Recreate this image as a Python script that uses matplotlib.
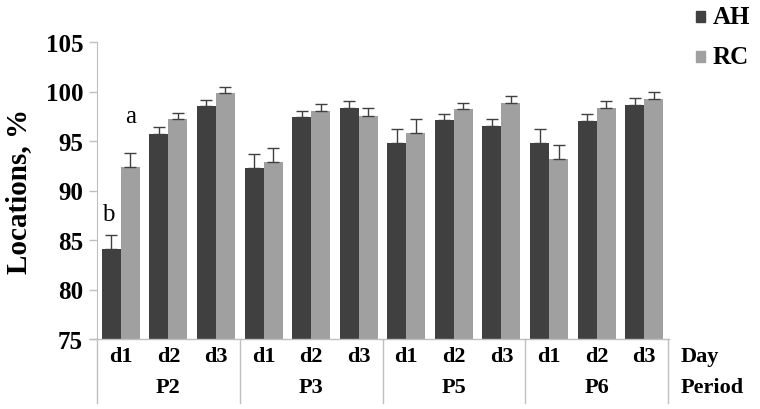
import matplotlib
matplotlib.use("Agg")
import matplotlib.pyplot as plt
import numpy as np
from matplotlib.lines import Line2D
from matplotlib.patches import Rectangle

periods = ["P2", "P3", "P5", "P6"]
days = ["d1", "d2", "d3"]
ah = [84.1, 95.7, 98.5, 92.3, 97.4, 98.3, 94.8, 97.1, 96.5, 94.8, 97.0, 98.6]
ah_err = [1.4, 0.7, 0.6, 1.4, 0.6, 0.7, 1.4, 0.6, 0.7, 1.4, 0.7, 0.7]
rc = [92.4, 97.2, 99.8, 92.9, 98.0, 97.5, 95.8, 98.2, 98.8, 93.2, 98.3, 99.2]
rc_err = [1.4, 0.6, 0.7, 1.4, 0.7, 0.8, 1.4, 0.6, 0.7, 1.4, 0.7, 0.8]
sig_labels = [("b", 0, "AH", 87.6), ("a", 0, "RC", 97.5)]

dark = "#404040"
light = "#a0a0a0"
axcol = "#bfbfbf"
serif = ["Liberation Serif", "DejaVu Serif"]

fig = plt.figure(figsize=(7.6, 4.1), dpi=100)
ax = fig.add_axes([97/760, 1-340/410, (668-97)/760, (340-43)/410])

n = len(ah)
x = np.arange(n)
w = 0.4
ax.bar(x - w/2, ah, w, color=dark, zorder=2)
ax.bar(x + w/2, rc, w, color=light, zorder=2)
ax.errorbar(x - w/2, ah, yerr=[np.zeros(n), ah_err], fmt="none", ecolor=dark,
            elinewidth=1, capsize=4.5, capthick=1, zorder=3)
ax.errorbar(x + w/2, rc, yerr=[np.zeros(n), rc_err], fmt="none", ecolor=dark,
            elinewidth=1, capsize=4.5, capthick=1, zorder=3)

for txt, i, ser, yv in sig_labels:
    xo = i - w/2 - 0.06 if ser == "AH" else i + w/2
    ax.text(xo, yv, txt, ha="center", va="center", fontsize=18, family=serif)

ax.set_xlim(-0.5, n - 0.5)
ax.set_ylim(75, 105)
ax.set_yticks([75, 80, 85, 90, 95, 100, 105])
ax.set_yticklabels(["75", "80", "85", "90", "95", "100", "105"],
                   fontsize=18, fontweight="bold", family=serif)
ax.tick_params(axis="y", length=6, color=axcol, width=1, pad=4)
ax.set_xticks([])
for s in ["top", "right", "bottom"]:
    ax.spines[s].set_visible(False)
ax.spines["left"].set_color(axcol)
ax.set_ylabel("Locations, %", fontsize=21, fontweight="bold", family=serif, labelpad=10)

# x axis line extending slightly left
fig.add_artist(Line2D([90/760, 669/760], [1-340/410, 1-340/410], color=axcol, lw=1))

trans = ax.get_xaxis_transform()
for i in range(n):
    ax.text(x[i], -0.058, days[i % 3], transform=trans, ha="center", va="center",
            fontsize=16, fontweight="bold", family=serif, clip_on=False)
for j, p in enumerate(periods):
    ax.text(3*j + 1, -0.162, p, transform=trans, ha="center", va="center",
            fontsize=16, fontweight="bold", family=serif, clip_on=False)
for j in range(len(periods) + 1):
    xb = 3*j - 0.5
    ax.plot([xb, xb], [0, -0.215], transform=trans, color=axcol, lw=1, clip_on=False)
ax.text(n - 0.5 + 0.27, -0.058, "Day", transform=trans, ha="left", va="center",
        fontsize=16, fontweight="bold", family=serif, clip_on=False)
ax.text(n - 0.5 + 0.27, -0.162, "Period", transform=trans, ha="left", va="center",
        fontsize=16, fontweight="bold", family=serif, clip_on=False)

# legend
for lab, col, yc in [("AH", dark, 17), ("RC", light, 57)]:
    fig.add_artist(Rectangle((696/760, 1-(yc+6)/410), 9/760, 11/410,
                             color=col, transform=fig.transFigure))
    fig.text(713/760, 1-yc/410, lab, ha="left", va="center", fontsize=18,
             fontweight="bold", family=serif)

fig.savefig("out.png", dpi=100)
